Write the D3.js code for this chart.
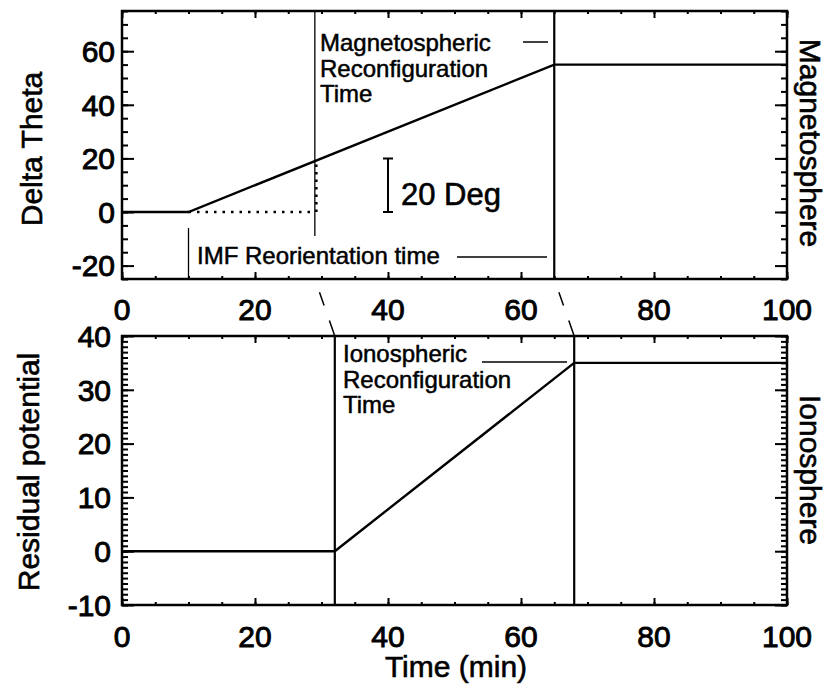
<!DOCTYPE html>
<html>
<head>
<meta charset="utf-8">
<script src="https://cdn.jsdelivr.net/npm/d3@7/dist/d3.min.js"></script>
<style>
  html, body { margin: 0; padding: 0; background: #fff; }
  svg { display: block; }
  text { font-family: "Liberation Sans", Arial, Helvetica, sans-serif; fill: #000; }
</style>
</head>
<body>
<svg id="chart" width="827" height="688"></svg>
<script>
// ---------------- DATA ----------------
const topTime = [0, 10, 65, 100];
const deltaTheta = [0, 0, 55, 55];
const botTime = [0, 32, 68, 100];
const residual = [0, 0, 35, 35];

const xTicks = [0, 20, 40, 60, 80, 100];
const topYTicks = [-20, 0, 20, 40, 60];
const botYTicks = [-10, 0, 10, 20, 30, 40];

const imfTime = 10;
const magReconStart = 29;
const magReconEnd = 65;
const ionoStart = 32;
const ionoEnd = 68;
const dottedLevel = 0;
const dottedTop = 19;
const magMarkerBottom = -9;
const imfMarkerTop = -6;
const scaleBar = [0, 20];

// ---------------- LAYOUT ----------------
const svg = d3.select("#chart");
const x = d3.scaleLinear().domain([0, 100]).range([122, 787]);
const yTop = d3.scaleLinear().domain([-25, 75]).range([279, 11]);
const yBot = d3.scaleLinear().domain([-10, 40]).range([605, 336]);

const FS = 30;
const ANN = 24;
const fmt = v => String(v);

function drawFrameAndLabels(yS, yMajors, xPad, yPad) {
  const g = svg.append("g");
  const r = yS.range();
  const yb = r[0], yt = r[1];
  const xl = x(0), xr = x(100);
  g.append("rect").attr("x", xl).attr("y", yt).attr("width", xr - xl).attr("height", yb - yt)
    .attr("fill", "none").attr("stroke", "#000").attr("stroke-width", 2.5);
  g.selectAll("text.yl").data(yMajors).join("text").attr("class", "yl")
    .attr("x", xl - yPad).attr("y", v => yS(v)).attr("dy", "0.36em")
    .attr("text-anchor", "end").attr("font-size", FS)
    .attr("stroke", "#000").attr("stroke-width", 0.9).text(fmt);
  g.selectAll("text.xl").data(xTicks).join("text").attr("class", "xl")
    .attr("x", v => x(v)).attr("y", yb + xPad)
    .attr("text-anchor", "middle").attr("font-size", FS)
    .attr("stroke", "#000").attr("stroke-width", 0.9).text(fmt);
}

drawFrameAndLabels(yTop, topYTicks, 41, 7);
drawFrameAndLabels(yBot, botYTicks, 42, 11);

const lineOf = (xs, ys, yS) => d3.line().x((d, i) => x(xs[i])).y((d, i) => yS(ys[i]))(xs);

// ---------------- TOP PANEL ----------------
svg.append("path").attr("d", lineOf(topTime, deltaTheta, yTop))
  .attr("fill", "none").attr("stroke", "#000").attr("stroke-width", 2.4);

svg.append("line").attr("x1", x(imfTime)).attr("x2", x(magReconStart))
  .attr("y1", yTop(dottedLevel)).attr("y2", yTop(dottedLevel))
  .attr("stroke", "#000").attr("stroke-width", 2.5).attr("stroke-dasharray", "2.5,6");
svg.append("line").attr("x1", x(magReconStart)).attr("x2", x(magReconStart))
  .attr("y1", yTop(75)).attr("y2", yTop(magMarkerBottom))
  .attr("stroke", "#000").attr("stroke-width", 1.3);
svg.append("line").attr("x1", x(magReconStart) + 1.5).attr("x2", x(magReconStart) + 1.5)
  .attr("y1", yTop(dottedLevel)).attr("y2", yTop(dottedTop))
  .attr("stroke", "#000").attr("stroke-width", 2.5).attr("stroke-dasharray", "2.5,5");
svg.append("line").attr("x1", x(magReconEnd)).attr("x2", x(magReconEnd))
  .attr("y1", yTop(75)).attr("y2", yTop(-25))
  .attr("stroke", "#000").attr("stroke-width", 2.2);
svg.append("line").attr("x1", x(imfTime)).attr("x2", x(imfTime))
  .attr("y1", yTop(imfMarkerTop)).attr("y2", yTop(-25))
  .attr("stroke", "#000").attr("stroke-width", 1.3);

// scale bar
const sbx = 388;
svg.append("path")
  .attr("d", `M${sbx},${yTop(scaleBar[1])}V${yTop(scaleBar[0])}M${sbx - 5},${yTop(scaleBar[1])}H${sbx + 5}M${sbx - 5},${yTop(scaleBar[0])}H${sbx + 5}`)
  .attr("stroke", "#000").attr("stroke-width", 2).attr("fill", "none");
svg.append("text").attr("x", 401).attr("y", 205).attr("font-size", 31)
  .attr("stroke", "#000").attr("stroke-width", 0.6).text("20 Deg");

// annotations top
const magLines = ["Magnetospheric", "Reconfiguration", "Time"];
svg.append("text").attr("font-size", ANN).attr("stroke", "#000").attr("stroke-width", 0.5)
  .selectAll("tspan").data(magLines).join("tspan")
  .attr("x", 320).attr("y", (d, i) => 51 + i * 25.5).text(d => d);
svg.append("line").attr("x1", 523).attr("x2", 548).attr("y1", 42).attr("y2", 42)
  .attr("stroke", "#000").attr("stroke-width", 1.5);

svg.append("text").attr("x", 197).attr("y", 264).attr("font-size", ANN)
  .attr("stroke", "#000").attr("stroke-width", 0.5).text("IMF Reorientation time");
svg.append("line").attr("x1", 457).attr("x2", 547).attr("y1", 257).attr("y2", 257)
  .attr("stroke", "#000").attr("stroke-width", 1.5);

// ---------------- BOTTOM PANEL ----------------
svg.append("path").attr("d", lineOf(botTime, residual, yBot))
  .attr("fill", "none").attr("stroke", "#000").attr("stroke-width", 2.4);
[ionoStart, ionoEnd].forEach(t => {
  svg.append("line").attr("x1", x(t)).attr("x2", x(t))
    .attr("y1", yBot(40)).attr("y2", yBot(-10))
    .attr("stroke", "#000").attr("stroke-width", 2.2);
});
const ionoLines = ["Ionospheric", "Reconfiguration", "Time"];
svg.append("text").attr("font-size", ANN).attr("stroke", "#000").attr("stroke-width", 0.5)
  .selectAll("tspan").data(ionoLines).join("tspan")
  .attr("x", 343).attr("y", (d, i) => 362 + i * 25.5).text(d => d);
svg.append("line").attr("x1", 482).attr("x2", 567).attr("y1", 362).attr("y2", 362)
  .attr("stroke", "#000").attr("stroke-width", 1.5);

// connectors between panels
[[magReconStart, ionoStart], [magReconEnd, ionoEnd]].forEach(([a, b]) => {
  svg.append("line").attr("x1", x(a)).attr("y1", yTop(-25)).attr("x2", x(b)).attr("y2", yBot(40))
    .attr("stroke", "#000").attr("stroke-width", 1.5).attr("stroke-dasharray", "0,14,14,16,20");
});

// ---------------- AXIS TITLES ----------------
const title = (tr, s) => svg.append("text").attr("transform", tr).attr("text-anchor", "middle")
  .attr("font-size", FS).attr("stroke", "#000").attr("stroke-width", 0.6).text(s);
title("translate(42,149) rotate(-90)", "Delta Theta");
title("translate(39,472) rotate(-90)", "Residual potential");
title("translate(800,143) rotate(90)", "Magnetosphere");
title("translate(800,470) rotate(90)", "Ionosphere");
title("translate(456,677)", "Time (min)");

// ---------------- TICKS (drawn last, on top) ----------------
function drawTicks(yS, yMajors, yMinors) {
  const r = yS.range();
  const yb = r[0], yt = r[1];
  const tg = svg.append("g").attr("class", "ticks");
  const axes = [
    [d3.axisLeft(yS).tickValues(yMinors).tickSize(-6), `translate(${x(0)},0)`],
    [d3.axisLeft(yS).tickValues(yMajors).tickSize(-12), `translate(${x(0)},0)`],
    [d3.axisRight(yS).tickValues(yMinors).tickSize(-6), `translate(${x(100)},0)`],
    [d3.axisRight(yS).tickValues(yMajors).tickSize(-12), `translate(${x(100)},0)`],
    [d3.axisBottom(x).tickValues(d3.range(0, 101, 5)).tickSize(-3), `translate(0,${yb})`],
    [d3.axisBottom(x).tickValues(xTicks).tickSize(-7), `translate(0,${yb})`],
    [d3.axisTop(x).tickValues(d3.range(0, 101, 5)).tickSize(-3), `translate(0,${yt})`],
    [d3.axisTop(x).tickValues(xTicks).tickSize(-7), `translate(0,${yt})`]
  ];
  axes.forEach(([ax, tr]) => {
    const a = tg.append("g").attr("transform", tr).call(ax.tickFormat(() => ""));
    a.select(".domain").remove();
    a.selectAll("text").remove();
    a.selectAll("line").attr("stroke", "#000").attr("stroke-width", 2);
  });
}
drawTicks(yTop, topYTicks, d3.range(-25, 76, 5));
drawTicks(yBot, botYTicks, d3.range(-10, 41, 1));
</script>
</body>
</html>
